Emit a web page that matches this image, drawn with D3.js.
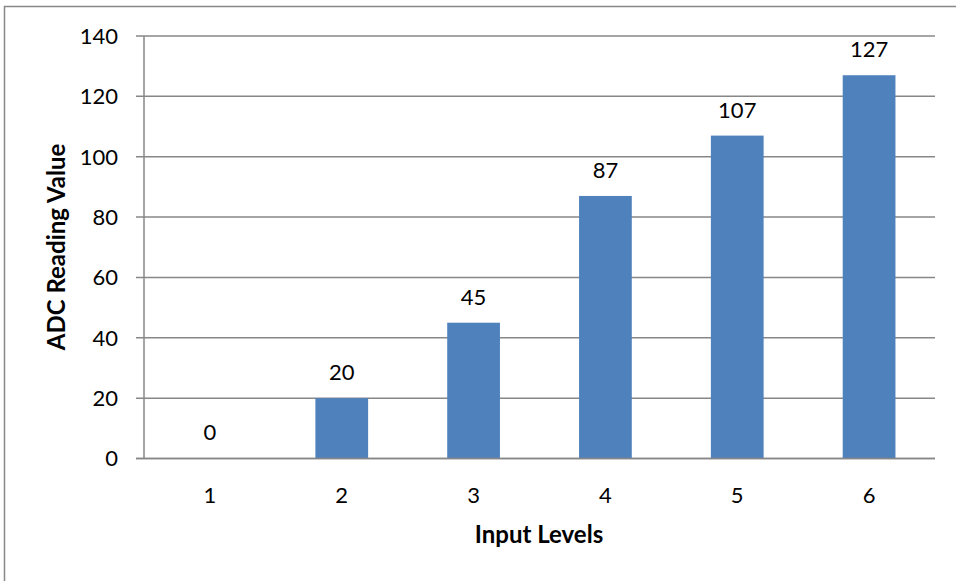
<!DOCTYPE html>
<html><head><meta charset="utf-8">
<script src="https://cdn.jsdelivr.net/npm/d3@7"></script>
<style>body{margin:0;background:#fff}svg{display:block}text{font-family:Lato,"Open Sans",sans-serif;fill:#000}</style>
</head><body><svg id="c" width="956" height="581"></svg>
<script>
const categories = ["1","2","3","4","5","6"];
const values = [0,20,45,87,107,127];
const yTicks = [0,20,40,60,80,100,120,140];
const yTitle = "ADC Reading Value";
const xTitle = "Input Levels";

const svg = d3.select("#c");
const m = {l:144, r:935, t:36, b:458.5};
svg.append("path").attr("d","M4.5,581V6.5H956").attr("fill","none").attr("stroke","#888").attr("stroke-width",1.5);

const x = d3.scaleBand().domain(categories).range([m.l,m.r]).paddingInner(0.6).paddingOuter(0.3);
const y = d3.scaleLinear().domain([0,140]).range([m.b,m.t]);

const grid = svg.append("g");
yTicks.forEach(t=>{
  grid.append("line").attr("x1",m.l-8).attr("x2",m.r).attr("y1",y(t)).attr("y2",y(t))
    .attr("stroke","#878787").attr("stroke-width",1.5);
  svg.append("text").attr("x",m.l-26).attr("y",y(t)).attr("dy","0.36em").attr("text-anchor","end")
    .style("font-size","22px").text(t);
});
svg.append("line").attr("x1",m.l).attr("x2",m.l).attr("y1",m.t).attr("y2",m.b).attr("stroke","#878787").attr("stroke-width",1.5);

svg.selectAll("rect.bar").data(values).join("rect").attr("class","bar")
  .attr("x",(d,i)=>x(categories[i])).attr("width",x.bandwidth())
  .attr("y",d=>y(d)).attr("height",d=>y(0)-y(d)).attr("fill","#4F81BD");
svg.append("line").attr("x1",m.l-8).attr("x2",m.r).attr("y1",y(0)).attr("y2",y(0)).attr("stroke","#878787").attr("stroke-width",1.5);

svg.selectAll("text.lbl").data(values).join("text").attr("class","lbl")
  .attr("x",(d,i)=>x(categories[i])+x.bandwidth()/2).attr("y",d=>y(d)-26).attr("dy","0.36em")
  .attr("text-anchor","middle").style("font-size","22px").text(d=>d);

categories.forEach(c=>{
  svg.append("text").attr("x",x(c)+x.bandwidth()/2).attr("y",495).attr("dy","0.36em")
    .attr("text-anchor","middle").style("font-size","22px").text(c);
});

svg.append("text").attr("x",539).attr("y",534).attr("dy","0.36em").attr("text-anchor","middle")
  .style("font-size","24px").style("font-weight","bold").text(xTitle);
svg.append("text").attr("transform","translate(56,247) rotate(-90)").attr("dy","0.36em").attr("text-anchor","middle")
  .style("font-size","24px").style("font-weight","bold").text(yTitle);
</script></body></html>
